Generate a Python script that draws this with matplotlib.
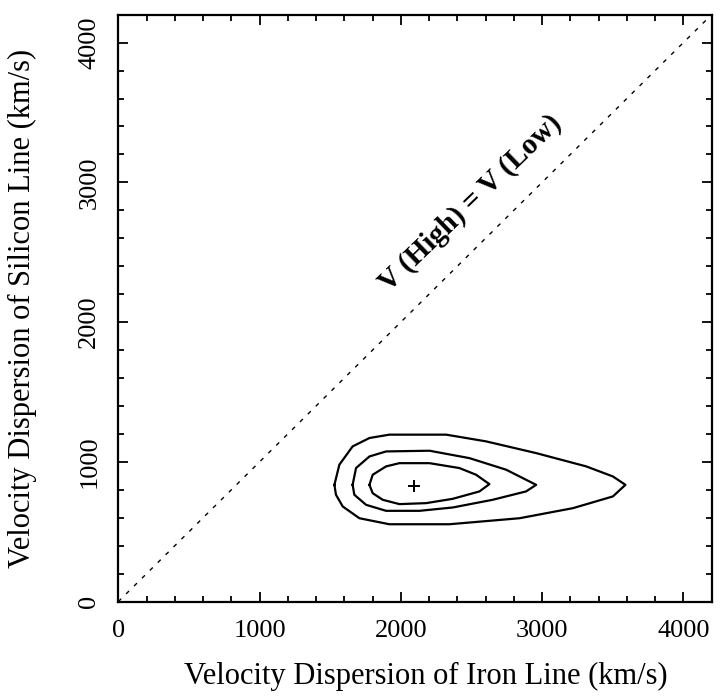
import matplotlib
matplotlib.use("Agg")
import matplotlib.pyplot as plt
from matplotlib.ticker import MultipleLocator

plt.rcParams['font.family'] = ['Liberation Serif', 'DejaVu Serif']

# contour outlines (km/s)
outer_x = [1530, 1565, 1659, 1778, 1919, 2321, 2603, 2958, 3312, 3501, 3590,
           3501, 3218, 2840, 2344, 1919, 1707, 1589, 1541, 1530]
outer_y = [836, 980, 1111, 1171, 1195, 1195, 1147, 1063, 968, 896, 836,
           753, 669, 597, 554, 554, 597, 681, 765, 836]

mid_x = [1659, 1683, 1778, 1896, 2203, 2486, 2746, 2887, 2958, 2887, 2650,
         2368, 2132, 1896, 1754, 1671, 1659]
mid_y = [836, 956, 1039, 1075, 1080, 1027, 944, 872, 836, 789, 729,
         674, 650, 650, 693, 765, 836]

inner_x = [1778, 1801, 1896, 1990, 2203, 2415, 2533, 2627, 2557, 2368, 2179,
           1990, 1872, 1801, 1778]
inner_y = [836, 908, 968, 991, 991, 956, 908, 841, 789, 736, 705,
           698, 729, 776, 836]

best_x = [2090]
best_y = [830]

diag = [0, 4200]

fig = plt.figure(figsize=(7.21, 6.98), dpi=100)
ax = fig.add_axes([0.164, 0.138, 0.823, 0.841])

for xs, ys in [(outer_x, outer_y), (mid_x, mid_y), (inner_x, inner_y)]:
    ax.plot(xs, ys, color='black', lw=1.6)
ax.plot(best_x, best_y, marker='+', color='black', ms=9, mew=1.4, ls='none')
ax.plot(diag, diag, color='black', lw=1.0, ls=(0, (3, 5)))

ax.text(2490, 2850, 'V (High) = V (Low)', rotation=44.0, ha='center', va='center',
        fontsize=21, fontweight='bold', rotation_mode='anchor')

ax.set_xlim(0, 4200)
ax.set_ylim(0, 4200)
ax.xaxis.set_major_locator(MultipleLocator(1000))
ax.yaxis.set_major_locator(MultipleLocator(1000))
ax.xaxis.set_minor_locator(MultipleLocator(200))
ax.yaxis.set_minor_locator(MultipleLocator(200))
ax.tick_params(which='both', direction='in', top=True, right=True, width=1.3)
ax.tick_params(which='major', length=7, labelsize=19, pad=13)
ax.tick_params(which='minor', length=4.5)
for lbl in ax.get_yticklabels():
    lbl.set_rotation(90)
    lbl.set_va('center')
for s in ax.spines.values():
    s.set_linewidth(1.6)

ax.set_xlabel('Velocity Dispersion of Iron Line (km/s)', fontsize=22)
ax.set_ylabel('Velocity Dispersion of Silicon Line (km/s)', fontsize=22)
ax.xaxis.set_label_coords(0.519, -0.127)
ax.yaxis.set_label_coords(-0.162, 0.5)
ax.xaxis.label.set_va('center')
ax.yaxis.label.set_va('center')

fig.savefig('out.png', dpi=100)
